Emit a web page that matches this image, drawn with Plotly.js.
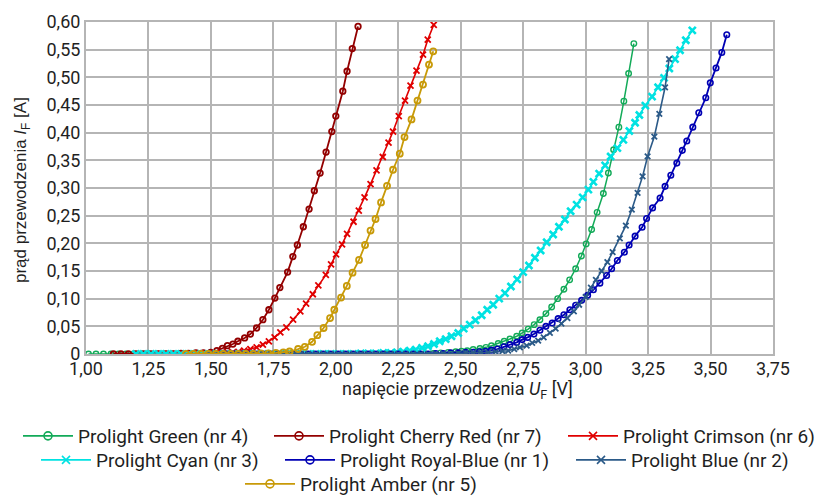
<!DOCTYPE html>
<html><head><meta charset="utf-8">
<script src="https://cdn.plot.ly/plotly-3.0.1.min.js"></script>
<style>html,body{margin:0;padding:0;background:#fff}</style>
</head><body><div id="chart" style="width:817px;height:496px"></div>
<script>
// ---- data (U in V, I in A) ----
const greenU = [1.01,1.04,1.07,1.10,1.13,1.16,1.19,1.22,1.25,1.28,1.31,1.34,1.37,1.40,1.43,1.46,1.49,1.52,1.55,1.58,1.61,1.64,1.67,1.70,1.73,1.76,1.79,1.82,1.85,1.88,1.91,1.94,1.97,2.00,2.03,2.06,2.09,2.12,2.15,2.18,2.21,2.24,2.27,2.30,2.33,2.36,2.39,2.42,2.45,2.48,
  2.503,2.526,2.550,2.577,2.601,2.623,2.650,2.674,2.697,2.724,2.746,2.770,2.794,2.817,2.841,2.864,2.888,2.913,2.936,2.960,2.983,3.002,3.024,3.046,3.071,3.091,3.112,3.133,3.153,3.172,3.193];
const greenI = [0,0,0,0,0,0,0,0,0,0,0,0,0,0,0,0,0,0,0,0,0,0,0,0,0,0,0,0,0,0,0,0,0,0,0,0,0,0,0,0,0,0,0,0,0,0,0.001,0.002,0.003,0.004,
  0.005,0.006,0.008,0.010,0.012,0.015,0.019,0.023,0.027,0.032,0.038,0.045,0.053,0.062,0.073,0.085,0.100,0.117,0.134,0.154,0.177,0.199,0.225,0.256,0.290,0.327,0.369,0.410,0.457,0.507,0.561];

const cherryU = [1.11,1.14,1.17,1.20,1.23,1.26,1.29,1.32,1.35,1.38,1.41,1.44,1.47,1.499,1.524,1.546,1.566,1.588,1.608,1.635,1.658,1.683,1.708,1.732,1.756,1.776,1.807,1.828,1.846,1.870,1.893,1.914,1.937,1.961,1.984,2.000,2.028,2.045,2.066,2.089];
const cherryI = [0,0,0,0,0,0,0,0,0,0.001,0.001,0.002,0.002,0.003,0.006,0.010,0.015,0.018,0.023,0.029,0.036,0.047,0.062,0.080,0.101,0.120,0.148,0.176,0.197,0.230,0.262,0.295,0.327,0.365,0.402,0.430,0.475,0.511,0.552,0.592];

const crimsonU = [1.30,1.33,1.36,1.39,1.42,1.45,1.48,1.51,1.54,1.565,1.588,1.610,1.633,1.658,1.683,1.708,1.732,1.755,1.778,1.802,1.829,1.858,1.881,1.908,1.930,1.960,1.981,2.001,2.025,2.045,2.071,2.092,2.115,2.139,2.163,2.188,2.211,2.229,2.252,2.277,2.299,2.323,2.349,2.368,2.392];
const crimsonI = [0,0,0,0,0,0.001,0.001,0.001,0.002,0.003,0.003,0.004,0.006,0.009,0.012,0.017,0.023,0.030,0.039,0.048,0.062,0.077,0.091,0.108,0.124,0.143,0.162,0.180,0.198,0.217,0.239,0.259,0.283,0.307,0.332,0.356,0.382,0.402,0.430,0.458,0.485,0.512,0.541,0.568,0.595];

const cyanU = [1.20,1.23,1.26,1.29,1.32,1.35,1.38,1.41,1.44,1.47,1.50,1.53,1.56,1.59,1.62,1.65,1.68,1.71,1.74,1.77,1.80,1.83,1.86,1.89,1.92,1.95,1.98,2.01,2.04,2.07,2.10,2.13,2.16,2.19,
  2.22,2.245,2.27,2.296,2.320,2.345,2.369,2.393,2.416,2.440,2.463,2.490,2.512,2.536,2.559,2.584,2.606,2.630,2.654,2.677,2.701,2.726,2.750,2.773,2.797,2.820,2.844,2.870,2.893,2.917,2.940,2.964,2.988,3.011,3.031,3.054,3.078,3.100,3.127,3.151,3.175,3.198,3.215,3.239,3.266,3.290,3.314,3.335,3.358,3.378,3.401,3.427];
const cyanI = [0,0,0,0,0,0,0,0,0,0,0,0,0,0,0,0,0,0,0,0,0,0,0,0,0,0,0,0,0,0,0.001,0.001,0.001,0.002,
  0.002,0.003,0.004,0.006,0.008,0.011,0.014,0.018,0.023,0.027,0.032,0.038,0.046,0.053,0.061,0.070,0.080,0.089,0.100,0.110,0.122,0.135,0.148,0.160,0.174,0.187,0.202,0.216,0.230,0.243,0.258,0.270,0.283,0.297,0.311,0.326,0.341,0.357,0.372,0.387,0.403,0.418,0.432,0.449,0.465,0.482,0.499,0.516,0.533,0.549,0.567,0.585];

const royalU = [1.56,1.59,1.62,1.65,1.68,1.71,1.74,1.77,1.80,1.83,1.86,1.89,1.92,1.95,1.98,2.01,2.04,2.07,2.10,2.13,2.16,2.19,2.22,2.25,2.28,2.31,2.34,2.37,2.40,2.43,2.46,2.49,2.52,2.55,
  2.575,2.599,2.623,2.647,2.673,2.697,2.724,2.746,2.768,2.793,2.817,2.841,2.866,2.890,2.913,2.937,2.960,2.984,3.008,3.031,3.057,3.084,3.104,3.127,3.155,3.174,3.198,3.226,3.244,3.268,3.298,3.318,3.341,3.365,3.387,3.405,3.429,3.453,3.481,3.499,3.522,3.545,3.565];
const royalI = [0,0,0,0,0,0,0,0,0,0,0,0,0,0,0,0,0,0,0,0,0,0,0,0,0,0,0,0,0.001,0.001,0.002,0.002,0.003,0.003,
  0.004,0.005,0.007,0.009,0.013,0.017,0.021,0.026,0.030,0.036,0.043,0.050,0.056,0.064,0.071,0.080,0.088,0.097,0.106,0.116,0.128,0.142,0.154,0.169,0.184,0.197,0.213,0.229,0.245,0.264,0.282,0.303,0.323,0.345,0.368,0.385,0.410,0.436,0.463,0.490,0.517,0.545,0.577];

const blueU = [1.50,1.53,1.56,1.59,1.62,1.65,1.68,1.71,1.74,1.77,1.80,1.83,1.86,1.89,1.92,1.95,1.98,2.01,2.04,2.07,2.10,2.13,2.16,2.19,2.22,2.25,2.28,2.31,2.34,2.37,2.40,2.43,2.46,2.49,2.52,2.55,2.58,2.61,
  2.640,2.667,2.690,2.714,2.737,2.764,2.786,2.810,2.832,2.857,2.880,2.903,2.927,2.953,2.974,3.000,3.021,3.041,3.064,3.087,3.108,3.137,3.161,3.185,3.208,3.228,3.248,3.275,3.295,3.318,3.334];
const blueI = [0,0,0,0,0,0,0,0,0,0,0,0,0,0,0,0,0,0,0,0,0,0,0,0,0,0,0,0,0,0,0,0,0,0.001,0.002,0.002,0.003,0.003,
  0.004,0.005,0.006,0.009,0.012,0.015,0.020,0.024,0.030,0.038,0.046,0.055,0.065,0.077,0.089,0.103,0.120,0.134,0.150,0.166,0.184,0.209,0.232,0.261,0.291,0.321,0.357,0.393,0.434,0.482,0.533];

const amberU = [1.40,1.43,1.46,1.49,1.52,1.55,1.58,1.61,1.64,1.67,1.70,1.73,1.76,1.79,
  1.815,1.849,1.876,1.905,1.926,1.951,1.977,1.994,2.021,2.044,2.067,2.093,2.117,2.139,2.159,2.181,2.205,2.229,2.256,2.275,2.303,2.327,2.349,2.373,2.390];
const amberI = [0,0,0,0,0,0,0,0,0,0,0.001,0.001,0.002,0.003,
  0.0045,0.009,0.013,0.022,0.034,0.047,0.065,0.080,0.102,0.123,0.147,0.170,0.197,0.223,0.244,0.274,0.304,0.333,0.362,0.392,0.424,0.458,0.487,0.523,0.547];

const seriesNames = ['Prolight Green (nr 4)','Prolight Cherry Red (nr 7)','Prolight Crimson (nr 6)','Prolight Cyan (nr 3)','Prolight Royal-Blue (nr 1)','Prolight Blue (nr 2)','Prolight Amber (nr 5)'];
const seriesU = [greenU, cherryU, crimsonU, cyanU, royalU, blueU, amberU];
const seriesI = [greenI, cherryI, crimsonI, cyanI, royalI, blueI, amberI];

const xTickVals = [1.00,1.25,1.50,1.75,2.00,2.25,2.50,2.75,3.00,3.25,3.50,3.75];
const xTickText = ['1,00','1,25','1,50','1,75','2,00','2,25','2,50','2,75','3,00','3,25','3,50','3,75'];
const yTickVals = [0,0.05,0.10,0.15,0.20,0.25,0.30,0.35,0.40,0.45,0.50,0.55,0.60];
const yTickText = ['0','0,05','0,10','0,15','0,20','0,25','0,30','0,35','0,40','0,45','0,50','0,55','0,60'];

// ---- styles ----
const colors = ['#12aa58','#930000','#e00000','#00e2e2','#0000b4','#2b5a88','#c89a08'];
const symbols = ['circle-open','circle-open','x-thin-open','x-thin-open','circle-open','x-thin-open','circle-open'];
const msize = [5.5,5.5,6,7,5.5,5.5,6];
const mlw = [1.4,1.8,1.8,2.6,1.6,1.8,1.8];
const lw = [1.5,1.8,1.6,1.6,1.8,1.6,1.8];
const legendIds = ['legend','legend2','legend3','legend4','legend5','legend6','legend7'];

const traces = [];
for (let k = 0; k < seriesNames.length; k++) {
  traces.push({
    type:'scatter', mode:'lines+markers', x: seriesU[k], y: seriesI[k],
    name: seriesNames[k], showlegend:false,
    line:{color:colors[k], width:lw[k]},
    marker:{symbol:symbols[k], size:msize[k], color:colors[k], line:{color:colors[k], width:mlw[k]}}
  });
}
for (let k = 0; k < seriesNames.length; k++) {
  traces.push({
    type:'scatter', mode:'lines+markers', x:[null], y:[null],
    name: seriesNames[k], showlegend:true, legend: legendIds[k],
    line:{color:colors[k], width:1.8},
    marker:{symbol:symbols[k], size:8, color:colors[k], line:{color:colors[k], width:1.6}}
  });
}

const FONT = 'Roboto, "Liberation Sans", sans-serif';
const TXT = '#1f1f1f';
function leg(px, py) {
  return {xref:'container', yref:'container', x:px/817, y:1-py/496, xanchor:'left', yanchor:'middle',
    orientation:'h', bgcolor:'rgba(0,0,0,0)', borderwidth:0, itemwidth:50,
    font:{family:FONT, size:19, color:TXT}};
}

const layout = {
  width:817, height:496,
  margin:{l:86, r:44, t:22, b:142, autoexpand:false},
  paper_bgcolor:'#ffffff', plot_bgcolor:'#ffffff',
  font:{family:FONT, size:18, color:TXT},
  xaxis:{range:[1,3.75], tickmode:'array', tickvals:xTickVals, ticktext:xTickText,
    showgrid:true, gridcolor:'#b5b5b5', gridwidth:2, zeroline:false,
    showline:true, linecolor:'#b5b5b5', linewidth:2, mirror:true, ticks:'', ticklabelstandoff:-3,
    tickfont:{family:FONT, size:18, color:TXT}, fixedrange:true},
  yaxis:{range:[0,0.6], tickmode:'array', tickvals:yTickVals, ticktext:yTickText,
    showgrid:true, gridcolor:'#b5b5b5', gridwidth:2, zeroline:false,
    showline:true, linecolor:'#b5b5b5', linewidth:2, mirror:true, ticks:'',
    tickfont:{family:FONT, size:18, color:TXT}, fixedrange:true},
  showlegend:true,
  legend: leg(18,436), legend2: leg(269,436), legend3: leg(563,436),
  legend4: leg(36,460), legend5: leg(280,460), legend6: leg(571,460),
  legend7: leg(240,484),
  annotations:[
    {text:'napięcie przewodzenia <i>U</i><sub>F</sub> [V]', xref:'paper', yref:'paper',
     x:(457-86)/687, y:(354-390)/332, xanchor:'center', yanchor:'middle', showarrow:false,
     font:{family:FONT, size:18, color:TXT}},
    {text:'prąd przewodzenia <i>I</i><sub>F</sub> [A]', xref:'paper', yref:'paper',
     x:(22-86)/687, y:(354-190)/332, xanchor:'center', yanchor:'middle', showarrow:false, textangle:-90,
     font:{family:'"Liberation Sans", Arial, sans-serif', size:17, color:TXT}}
  ]
};

Plotly.newPlot('chart', traces, layout, {displayModeBar:false, staticPlot:true});
</script>
</body></html>
